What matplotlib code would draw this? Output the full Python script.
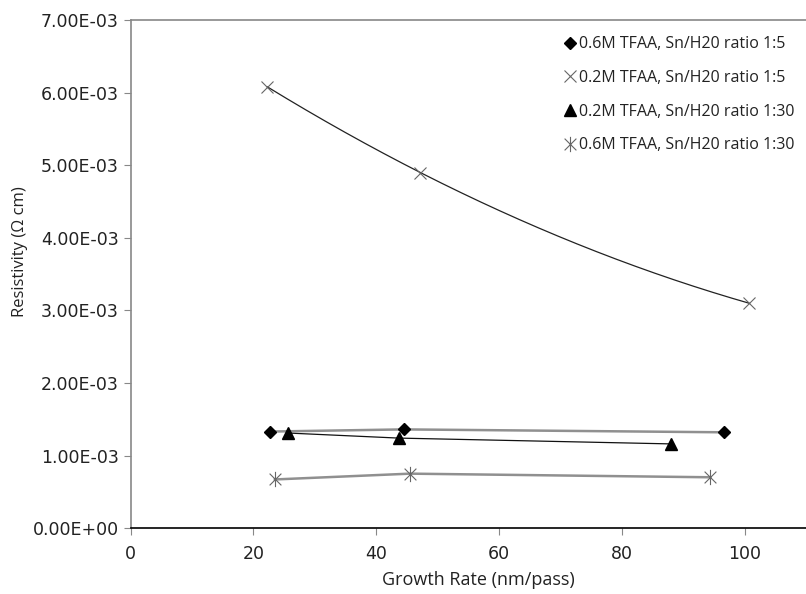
import numpy as np
import matplotlib
matplotlib.use('Agg')
from matplotlib import pyplot as plt
from matplotlib.path import Path
from matplotlib.ticker import FuncFormatter

# 数据
x_d = [22.7, 44.5, 96.6]          # 0.6M TFAA, 1:5
y_d = [1.33e-3, 1.36e-3, 1.32e-3]
x_x = [22.3, 47.2, 100.7]         # 0.2M TFAA, 1:5
y_x = [6.08e-3, 4.90e-3, 3.10e-3]
x_t = [25.6, 43.7, 88.0]          # 0.2M TFAA, 1:30
y_t = [1.31e-3, 1.24e-3, 1.16e-3]
x_s = [23.5, 45.5, 94.4]          # 0.6M TFAA, 1:30
y_s = [0.67e-3, 0.75e-3, 0.70e-3]

labels = ['0.6M TFAA, Sn/H20 ratio 1:5', '0.2M TFAA, Sn/H20 ratio 1:5',
          '0.2M TFAA, Sn/H20 ratio 1:30', '0.6M TFAA, Sn/H20 ratio 1:30']

# Excel 的星形标记：x 加一条竖线
star = Path([(-1, -1), (1, 1), (-1, 1), (1, -1), (0, -1.3), (0, 1.3)],
            [Path.MOVETO, Path.LINETO, Path.MOVETO, Path.LINETO, Path.MOVETO, Path.LINETO])

fig = plt.figure(figsize=(8.06, 5.94), dpi=100)
ax = fig.add_axes([0.162, 0.111, 0.838, 0.855])

# 上面那条是平滑曲线
c = np.polyfit(x_x, y_x, 2)
xx = np.linspace(x_x[0], x_x[-1], 200)
ax.plot(xx, np.polyval(c, xx), color='#222222', lw=0.9, zorder=2)

ax.plot(x_d, y_d, color='#909090', lw=1.8, zorder=2)
ax.plot(x_t, y_t, color='#111111', lw=0.9, zorder=2)
ax.plot(x_s, y_s, color='#909090', lw=1.8, zorder=2)

ax.plot(x_d, y_d, ls='none', marker='D', ms=6, color='black', label=labels[0], zorder=3)
ax.plot(x_x, y_x, ls='none', marker='x', ms=9, mew=0.8, color='#666666', label=labels[1], zorder=3)
ax.plot(x_t, y_t, ls='none', marker='^', ms=8, color='black', label=labels[2], zorder=3)
ax.plot(x_s, y_s, ls='none', marker=star, ms=11, mew=0.8, color='#666666', label=labels[3], zorder=3)

ax.set_xlim(0, 110)
ax.set_ylim(0, 7e-3)
ax.set_xticks(range(0, 101, 20))
ax.set_yticks(np.arange(0, 7.01e-3, 1e-3))
ax.yaxis.set_major_formatter(FuncFormatter(lambda v, p: '{:.2E}'.format(v)))

ax.spines['right'].set_visible(False)
ax.spines['left'].set_color('#888888')
ax.spines['top'].set_color('#888888')
ax.spines['bottom'].set_color('black')
ax.spines['left'].set_linewidth(1.2)
ax.spines['top'].set_linewidth(1.2)
ax.spines['bottom'].set_linewidth(1.2)
ax.tick_params(axis='both', direction='out', length=5, color='#888888',
               labelsize=12.5, labelcolor='#222222')
ax.tick_params(axis='x', pad=7)
for t in ax.get_xticklabels() + ax.get_yticklabels():
    t.set_family('DejaVu Sans')

ax.set_xlabel('Growth Rate (nm/pass)', family='Open Sans', fontsize=13, color='#222222')
ax.set_ylabel('Resistivity (Ω cm)', family='Open Sans', fontsize=12, color='#222222')
ax.xaxis.set_label_coords(0.515, -0.085)
ax.yaxis.set_label_coords(-0.152, 0.545)

leg = ax.legend(loc='upper right', frameon=False, prop={'family': 'Open Sans', 'size': 11.5},
                handlelength=0.6, handletextpad=0.3, labelspacing=1.1,
                borderaxespad=0.3, bbox_to_anchor=(1.0, 0.99))
for t in leg.get_texts():
    t.set_color('#222222')

fig.savefig('out.png', dpi=100)
